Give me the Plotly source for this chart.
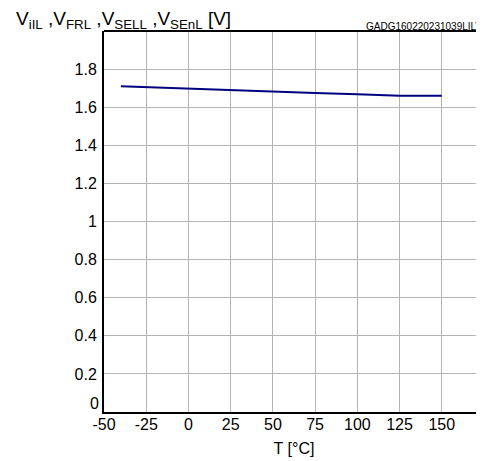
import plotly.graph_objects as go

temps = [-40, -25, 0, 25, 50, 75, 100, 125, 150]
volts = [1.71, 1.705, 1.697, 1.69, 1.682, 1.675, 1.668, 1.66, 1.66]
x_ticks = [-50, -25, 0, 25, 50, 75, 100, 125, 150]
x_ticktext = ["-50", "-25", "0", "25", "50", "75", "100", "125", "150"]
y_ticks = [0, 0.2, 0.4, 0.6, 0.8, 1, 1.2, 1.4, 1.6, 1.8]
y_ticktext = ["0", "0.2", "0.4", "0.6", "0.8", "1", "1.2", "1.4", "1.6", "1.8"]

font = "Liberation Sans, Arial, sans-serif"

fig = go.Figure()
fig.add_trace(go.Scatter(x=temps, y=volts, mode="lines",
                         line=dict(color="#000080", width=2), showlegend=False))

# the bottom "0" label sits just above the axis line in the reference
y_axis_text = [""] + y_ticktext[1:]

fig.update_layout(
    width=476, height=453,
    margin=dict(l=96, r=0, t=23, b=49),
    paper_bgcolor="white", plot_bgcolor="white",
    font=dict(family=font, size=16, color="black"),
    xaxis=dict(range=[-50, 175], tickvals=x_ticks, ticktext=x_ticktext, showgrid=True,
               gridcolor="#b4b4b4", gridwidth=1, showline=True, linecolor="black",
               linewidth=2, ticks="", zeroline=False, mirror=False,
               ticklabelstandoff=-3,
               title=dict(text="T [°C]", font=dict(size=16), standoff=11),
               tickfont=dict(size=16)),
    yaxis=dict(range=[0, 2.0], tickvals=y_ticks, ticktext=y_axis_text, showgrid=True,
               gridcolor="#b4b4b4", gridwidth=1, showline=True, linecolor="black",
               linewidth=2, ticks="", zeroline=False, ticklabelstandoff=2,
               tickfont=dict(size=16)),
    shapes=[dict(type="line", xref="paper", yref="paper", x0=0, x1=1, y0=1, y1=1,
                 line=dict(color="black", width=2))],
    annotations=[
        dict(text="V<sub>iIL</sub> ,V<sub>FRL</sub> ,V<sub>SELL</sub> ,V<sub>SEnL</sub> [V]",
             xref="paper", yref="paper", x=-0.237, y=1.0, xanchor="left", yanchor="bottom",
             yshift=-3, showarrow=False, font=dict(size=19)),
        dict(text="GADG160220231039LILV", xref="paper", yref="paper", x=1.0, y=1.0,
             xanchor="right", yanchor="bottom", yshift=-3, showarrow=False,
             font=dict(size=10)),
        dict(text=y_ticktext[0], xref="paper", yref="y", x=0, y=y_ticks[0],
             xanchor="right", yanchor="bottom", xshift=-3, yshift=-2, showarrow=False,
             font=dict(size=16)),
    ],
)

fig.write_html("out.html")
